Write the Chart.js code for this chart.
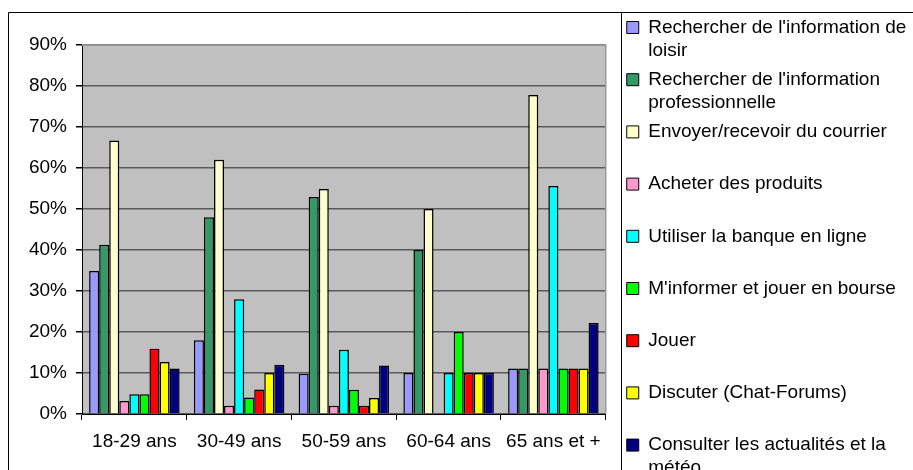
<!DOCTYPE html>
<html>
<head>
<meta charset="utf-8">
<script src="https://cdn.jsdelivr.net/npm/chart.js@4/dist/chart.umd.min.js"></script>
<style>
  html, body { margin: 0; padding: 0; overflow: hidden; background: #fff; }
  canvas { display: block; }
</style>
</head>
<body>
<canvas id="c" width="930" height="500"></canvas>
<script>
// ---- Data ----
const categories = ['18-29 ans', '30-49 ans', '50-59 ans', '60-64 ans', '65 ans et +'];

const seriesNames = [
  "Rechercher de l'information de loisir",
  "Rechercher de l'information professionnelle",
  "Envoyer/recevoir du courrier",
  "Acheter des produits",
  "Utiliser la banque en ligne",
  "M'informer et jouer en bourse",
  "Jouer",
  "Discuter (Chat-Forums)",
  "Consulter les actualités et la météo"
];

const legendLines = [
  ["Rechercher de l'information de", "loisir"],
  ["Rechercher de l'information", "professionnelle"],
  ["Envoyer/recevoir du courrier", ""],
  ["Acheter des produits", ""],
  ["Utiliser la banque en ligne", ""],
  ["M'informer et jouer en bourse", ""],
  ["Jouer", ""],
  ["Discuter (Chat-Forums)", ""],
  ["Consulter les actualités et la", "météo"]
];

const loisir       = [34.9, 18.0,  9.8, 10.0, 11.1];
const pro          = [41.3, 48.0, 52.9, 40.0, 11.1];
const courrier     = [66.7, 62.0, 54.9, 50.0, 77.8];
const acheter      = [ 3.2,  2.0,  2.0,  0.0, 11.1];
const banque       = [ 4.8, 28.0, 15.7, 10.0, 55.6];
const bourse       = [ 4.8,  4.0,  5.9, 20.0, 11.1];
const jouer        = [15.9,  6.0,  2.0, 10.0, 11.1];
const discuter     = [12.7, 10.0,  3.9, 10.0, 11.1];
const actualites   = [11.1, 12.0, 11.8, 10.0, 22.2];

const seriesValues = [loisir, pro, courrier, acheter, banque, bourse, jouer, discuter, actualites];
const seriesColors = ['#9999FF', '#339966', '#FFFFCC', '#FF99CC', '#00FFFF', '#00FF00', '#FF0000', '#FFFF00', '#000080'];

const yTicks = [0, 10, 20, 30, 40, 50, 60, 70, 80, 90];

// ---- Layout constants ----
const FONT = "'Liberation Sans', Arial, sans-serif";
const PAD = { left: 8, top: 12, right: 13.6, bottom: 0 };

const framePlugin = {
  id: 'frame',
  beforeDraw(chart) {
    const { ctx, chartArea: a } = chart;
    ctx.save();
    ctx.fillStyle = '#ffffff';
    ctx.fillRect(0, 0, chart.width, chart.height);
    ctx.fillStyle = '#C0C0C0';
    ctx.fillRect(a.left, a.top, a.right - a.left, a.bottom - a.top);
    ctx.restore();
  },
  beforeDatasetsDraw(chart) {
    const { ctx, chartArea: a } = chart;
    ctx.save();
    ctx.strokeStyle = '#9a9a9a';
    ctx.lineWidth = 1.5;
    ctx.beginPath();
    ctx.moveTo(a.left, a.top);
    ctx.lineTo(a.right, a.top);
    ctx.lineTo(a.right, a.bottom);
    ctx.stroke();
    ctx.restore();
  },
  afterDraw(chart) {
    const { ctx } = chart;
    ctx.save();
    ctx.strokeStyle = '#000';
    ctx.lineWidth = 1;
    ctx.beginPath();
    ctx.moveTo(PAD.left + 0.5, chart.height + 5);
    ctx.lineTo(PAD.left + 0.5, PAD.top + 0.5);
    ctx.lineTo(chart.width + 5, PAD.top + 0.5);
    const lx = Math.round(chart.legend.left) + 0.5;
    ctx.moveTo(lx, PAD.top + 0.5);
    ctx.lineTo(lx, chart.height + 5);
    ctx.stroke();
    ctx.restore();
  }
};

new Chart(document.getElementById('c'), {
  type: 'bar',
  data: {
    labels: categories,
    datasets: seriesNames.map((name, i) => ({
      label: name,
      data: seriesValues[i],
      backgroundColor: seriesColors[i],
      borderColor: '#000000',
      borderWidth: 1.5,
      xAxisID: 'x',
      yAxisID: 'y',
      categoryPercentage: 0.864,
      barPercentage: 1.0
    }))
  },
  options: {
    responsive: false,
    animation: false,
    devicePixelRatio: 1,
    layout: { padding: PAD },
    scales: {
      x: {
        type: 'category',
        position: 'bottom',
        grid: { display: true, drawOnChartArea: false, offset: true, tickLength: 6, tickColor: '#000', lineWidth: 1 },
        border: { display: true, color: '#000', width: 1 },
        ticks: { color: '#000', font: { family: FONT, size: 19 }, padding: 10, maxRotation: 0, autoSkip: false },
        afterFit(s) { s.height = 86; }
      },
      xTop: {
        type: 'category',
        position: 'top',
        display: true,
        grid: { display: false },
        border: { display: false },
        ticks: { display: false },
        afterFit(s) { s.height = 33; }
      },
      y: {
        type: 'linear',
        position: 'left',
        min: 0,
        max: 90,
        afterBuildTicks(s) { s.ticks = yTicks.map(v => ({ value: v })); },
        grid: { color: '#5a5a5a', lineWidth: 1.5, tickLength: 6, tickColor: '#000' },
        border: { display: true, color: '#000', width: 1 },
        ticks: { color: '#000', font: { family: FONT, size: 19 }, padding: 9, callback: v => v + '%' },
        afterFit(s) { s.width = 74; }
      },
      ySpacer: {
        type: 'linear',
        position: 'right',
        display: true,
        grid: { display: false },
        border: { display: false },
        ticks: { display: false },
        afterFit(s) { s.width = 15; }
      }
    },
    plugins: {
      tooltip: { enabled: false },
      legend: {
        position: 'right',
        align: 'start',
        maxWidth: 400,
        labels: {
          boxWidth: 12,
          boxHeight: 12,
          padding: 6,
          color: '#000',
          font: { family: FONT, size: 19, lineHeight: '23.1px' },
          generateLabels(chart) {
            const items = Chart.defaults.plugins.legend.labels.generateLabels(chart);
            return items.map((it, i) => Object.assign(it, {
              text: legendLines[i],
              lineWidth: 1,
              strokeStyle: '#000'
            }));
          }
        }
      }
    }
  },
  plugins: [framePlugin]
});
</script>
</body>
</html>
